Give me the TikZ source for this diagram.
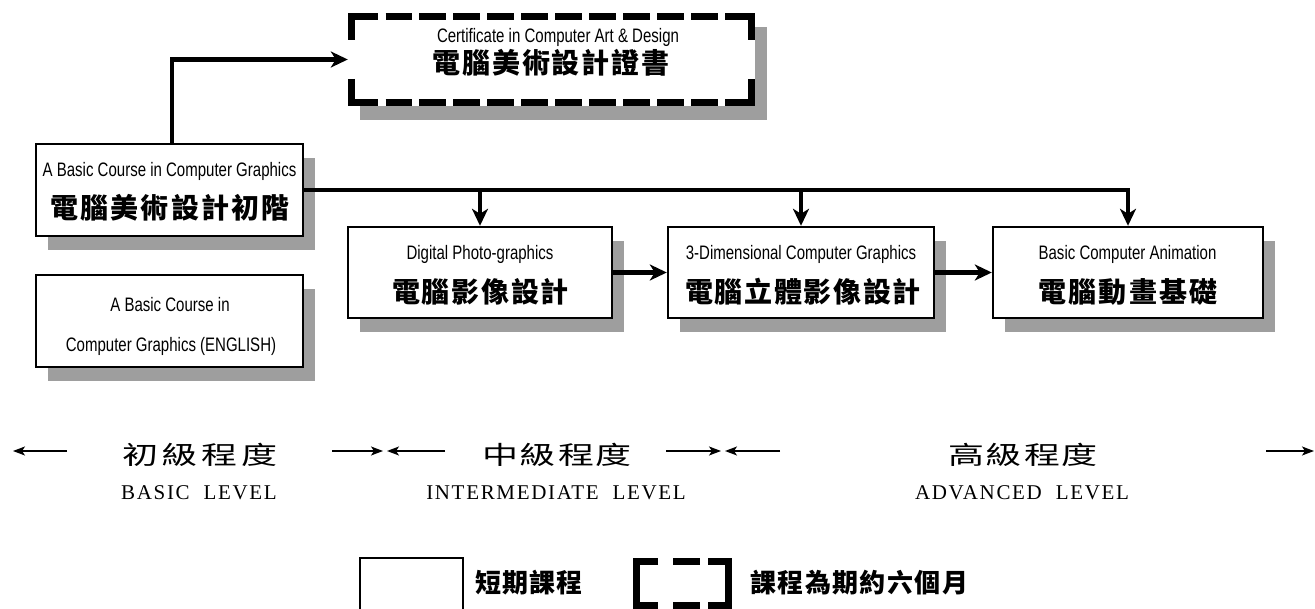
\documentclass[tikz,border=0pt]{standalone}
\usepackage{fontspec}
\setmainfont{Liberation Serif}
\newfontfamily\narrow[FakeStretch=0.77]{Liberation Sans}
\newfontfamily\cjk{Noto Sans CJK TC}
\newfontfamily\lvfont[LetterSpace=8]{Liberation Serif}
\usetikzlibrary{arrows.meta,shadows}
\newcommand\zhs[2]{\makebox[#1][s]{#2}}
\newcommand\squashy[1]{\scalebox{1}[0.7]{#1}}
\begin{document}
\begin{tikzpicture}[x=1pt,y=-1pt,
  sh/.style={drop shadow={shadow xshift=12pt,shadow yshift=-14pt,opacity=1,fill=black!38,draw=none}},
  course/.style={draw,line width=2.4pt,fill=white,inner sep=0pt,sh},
  conn/.style={line width=4.5pt,line join=miter,-{Stealth[length=17pt,width=16pt,inset=5pt]}},
  lvl/.style={line width=1.4pt,-{Stealth[length=12pt,width=9pt,inset=3pt]}},
  en/.style={font=\narrow\fontsize{19.5}{21}\selectfont,inner sep=0pt,text height=14pt,text depth=0pt},
  zh/.style={font=\cjk\bfseries\fontsize{28}{30}\selectfont,inner sep=0pt,text height=24pt,text depth=3.5pt},
  lvzh/.style={font=\cjk\fontsize{36}{38}\selectfont,inner sep=0pt},
  lven/.style={font=\lvfont\fontsize{21}{23}\selectfont,inner sep=0pt,text height=14pt,text depth=0pt},
  legzh/.style={font=\cjk\bfseries\fontsize{26}{28}\selectfont,inner sep=0pt,text height=22pt,text depth=3.5pt},
  dashb/.style={line width=7pt,line cap=butt,line join=miter}
]
\useasboundingbox (0,0) rectangle (1315,609);

% certificate box (dashed)
\node[fill=white,inner sep=0pt,minimum width=407pt,minimum height=93pt,sh] (cert) at (551.5,59.5) {};
\draw[dashb] (351.5,40) -- (351.5,16.5) -- (378,16.5);
\draw[dashb] (725,16.5) -- (751.5,16.5) -- (751.5,40);
\draw[dashb] (351.5,79) -- (351.5,102.5) -- (378,102.5);
\draw[dashb] (725,102.5) -- (751.5,102.5) -- (751.5,79);
\draw[dashb,dash pattern=on 26.45pt off 7.5pt] (385.5,16.5) -- (717.5,16.5);
\draw[dashb,dash pattern=on 26.45pt off 7.5pt] (385.5,102.5) -- (717.5,102.5);
\node[en] (certen) at (558,36) {Certificate in Computer Art \& Design};
\node[zh] (certzh) at (551,63) {\zhs{237pt}{電\hfill 腦\hfill 美\hfill 術\hfill 設\hfill 計\hfill 證\hfill 書}};

% left boxes
\node[course,minimum width=267pt,minimum height=92pt] (b1) at (169.5,190) {};
\node[en] (b1en) at (169.5,170) {A Basic Course in Computer Graphics};
\node[zh] (b1zh) at (170,208) {\zhs{240pt}{電\hfill 腦\hfill 美\hfill 術\hfill 設\hfill 計\hfill 初\hfill 階}};

\node[course,minimum width=267pt,minimum height=92pt] (b0) at (169.5,321) {};
\node[en] (b0a) at (170,305) {A Basic Course in};
\node[en] (b0b) at (171,345) {Computer Graphics (ENGLISH)};

% row boxes
\node[course,minimum width=264pt,minimum height=91pt] (b2) at (480,272.5) {};
\node[en] (b2en) at (480,253) {Digital Photo-graphics};
\node[zh] (b2zh) at (480.5,292) {\zhs{177pt}{電\hfill 腦\hfill 影\hfill 像\hfill 設\hfill 計}};

\node[course,minimum width=266pt,minimum height=91pt] (b3) at (801,272.5) {};
\node[en] (b3en) at (801,253) {3-Dimensional Computer Graphics};
\node[zh] (b3zh) at (803,292) {\zhs{236pt}{電\hfill 腦\hfill 立\hfill 體\hfill 影\hfill 像\hfill 設\hfill 計}};

\node[course,minimum width=270pt,minimum height=91pt] (b4) at (1128,272.5) {};
\node[en] (b4en) at (1127.5,253) {Basic Computer Animation};
\node[zh] (b4zh) at (1128,292) {\zhs{180pt}{電\hfill 腦\hfill 動\hfill 畫\hfill 基\hfill 礎}};

% connectors
\draw[conn] ([xshift=2.5pt]b1.north) |- (cert.west);
\draw[conn] (b1.east) -| (b4.north);
\draw[conn] (b2.north |- b1.east) -- (b2.north);
\draw[conn] (b3.north |- b1.east) -- (b3.north);
\draw[conn] (b2.east) -- (b3.west);
\draw[conn] (b3.east) -- (b4.west);

% levels
\coordinate (l1s) at (67,451); \coordinate (l1t) at (13,451);
\coordinate (l2s) at (332,451); \coordinate (l2t) at (383,451);
\coordinate (l3s) at (445,451); \coordinate (l3t) at (387,451);
\coordinate (l4s) at (666,451); \coordinate (l4t) at (721,451);
\coordinate (l5s) at (780,451); \coordinate (l5t) at (725,451);
\coordinate (l6s) at (1266,451); \coordinate (l6t) at (1314,451);
\draw[lvl] (l1s) -- (l1t);
\draw[lvl] (l2s) -- (l2t);
\draw[lvl] (l3s) -- (l3t);
\draw[lvl] (l4s) -- (l4t);
\draw[lvl] (l5s) -- (l5t);
\draw[lvl] (l6s) -- (l6t);
\node[lvzh] (lv1zh) at (200,455) {\squashy{\zhs{156pt}{初\hfill 級\hfill 程\hfill 度}}};
\node[lven] (lv1en) at (199,492) {BASIC\ \ LEVEL};
\node[lvzh] (lv2zh) at (557,455) {\squashy{\zhs{150pt}{中\hfill 級\hfill 程\hfill 度}}};
\node[lven] (lv2en) at (556,492) {INTERMEDIATE\ \ LEVEL};
\node[lvzh] (lv3zh) at (1023,455) {\squashy{\zhs{150pt}{高\hfill 級\hfill 程\hfill 度}}};
\node[lven] (lv3en) at (1022,492) {ADVANCED\ \ LEVEL};

% legend
\node[draw,line width=1.6pt,inner sep=0pt,minimum width=103pt,minimum height=60pt] (legsq) at (411.5,588) {};
\node[legzh,anchor=west] (legsqt) at (475,583) {\zhs{107pt}{短\hfill 期\hfill 課\hfill 程}};
\draw[dashb] (658,561.5) -- (636.5,561.5) -- (636.5,605.5) -- (658,605.5);
\draw[dashb] (673,561.5) -- (700,561.5);
\draw[dashb] (673,605.5) -- (700,605.5);
\draw[dashb] (708,561.5) -- (728.5,561.5) -- (728.5,605.5) -- (708,605.5);
\node[legzh,anchor=west] (legdt) at (750,583) {\zhs{218pt}{課\hfill 程\hfill 為\hfill 期\hfill 約\hfill 六\hfill 個\hfill 月}};
\end{tikzpicture}
\end{document}
